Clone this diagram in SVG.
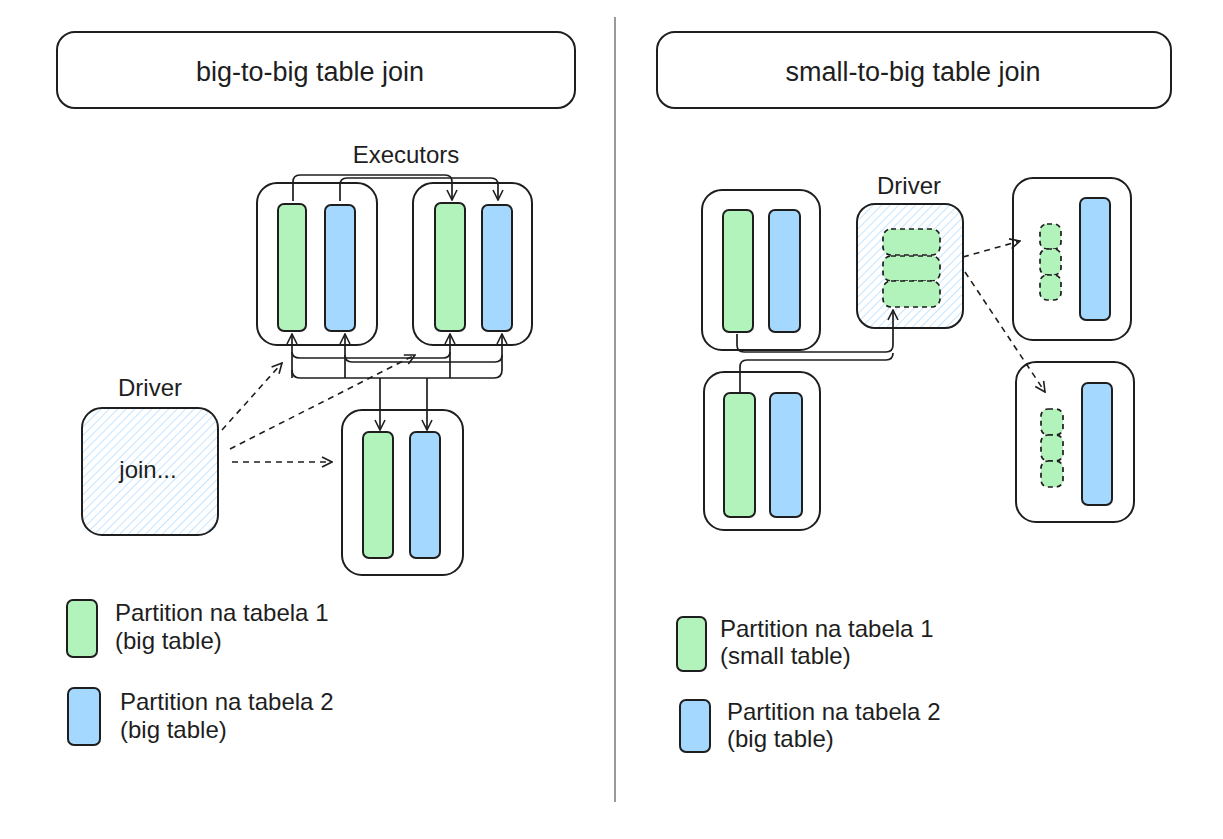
<svg xmlns="http://www.w3.org/2000/svg" width="1223" height="839" viewBox="0 0 1223 839">
<style>
.box{fill:#fff;stroke:#1e1e1e;stroke-width:2}
.g{fill:#b2f2bb;stroke:#1e1e1e;stroke-width:2}
.b{fill:#a5d8ff;stroke:#1e1e1e;stroke-width:2}
.gd{fill:#b2f2bb;stroke:#1e1e1e;stroke-width:1.7;stroke-dasharray:5 4}
.hatch{fill:url(#hatch);stroke:#1e1e1e;stroke-width:2}
.t{font-family:"Liberation Sans",Arial,sans-serif;fill:#1e1e1e}
.c{fill:none;stroke:#1e1e1e;stroke-width:1.7}
.d{fill:none;stroke:#1e1e1e;stroke-width:1.6;stroke-dasharray:6 5}
</style>
<defs>
<pattern id="hatch" patternUnits="userSpaceOnUse" width="6" height="6" patternTransform="rotate(45)">
<rect width="6" height="6" fill="#fff"/>
<line x1="0" y1="0" x2="0" y2="6" stroke="#a5d8ff" stroke-width="1.3"/>
</pattern>
<marker id="ah" viewBox="0 0 12 12" refX="11" refY="6" markerWidth="12" markerHeight="12" markerUnits="userSpaceOnUse" orient="auto">
<path d="M1,1 L11,6 L1,11" fill="none" stroke="#1e1e1e" stroke-width="1.6"/>
</marker>
</defs>
<rect width="1223" height="839" fill="#fff"/>
<line x1="615" y1="17" x2="615" y2="802" stroke="#777" stroke-width="1.5"/>

<g id="title-left"><rect class="box" x="57" y="32" width="518" height="76" rx="18"/><text class="t" x="310" y="81" font-size="27" text-anchor="middle">big-to-big table join</text></g>
<g id="title-right"><rect class="box" x="657" y="32" width="514" height="76" rx="18"/><text class="t" x="913" y="81" font-size="27" text-anchor="middle">small-to-big table join</text></g>

<g id="executors-label"><text class="t" x="406" y="163" font-size="24" text-anchor="middle">Executors</text></g>

<g id="exec1"><rect class="box" x="257" y="183" width="120" height="162" rx="20"/><rect class="g" x="278" y="204" width="28" height="127" rx="6"/><rect class="b" x="325" y="205" width="30" height="126" rx="6"/></g>
<g id="exec2"><rect class="box" x="413" y="183" width="119" height="162" rx="20"/><rect class="g" x="435" y="203" width="30" height="128" rx="6"/><rect class="b" x="482" y="205" width="30" height="126" rx="6"/></g>
<g id="exec3"><rect class="box" x="342" y="410" width="121" height="165" rx="20"/><rect class="g" x="363" y="432" width="30" height="126" rx="6"/><rect class="b" x="410" y="432" width="30" height="126" rx="6"/></g>

<g id="driver-left"><text class="t" x="150" y="396" font-size="24" text-anchor="middle">Driver</text><rect class="hatch" x="82" y="408" width="136" height="127" rx="20"/><text class="t" x="148" y="478" font-size="24" text-anchor="middle">join...</text></g>

<g id="legend-left">
<rect class="g" x="67" y="600" width="30" height="57" rx="6"/><text class="t" x="115" y="621" font-size="24">Partition na tabela 1</text><text class="t" x="115" y="649" font-size="24">(big table)</text>
<rect class="b" x="68" y="688" width="32" height="57" rx="6"/><text class="t" x="120" y="710" font-size="24">Partition na tabela 2</text><text class="t" x="120" y="738" font-size="24">(big table)</text>
</g>

<g id="execA"><rect class="box" x="702" y="190" width="118" height="160" rx="20"/><rect class="g" x="723" y="210" width="30" height="122" rx="6"/><rect class="b" x="769" y="210" width="31" height="122" rx="6"/></g>
<g id="execB"><rect class="box" x="704" y="372" width="116" height="158" rx="20"/><rect class="g" x="724" y="393" width="31" height="124" rx="6"/><rect class="b" x="770" y="393" width="32" height="124" rx="6"/></g>
<g id="driver-right"><text class="t" x="909" y="194" font-size="24" text-anchor="middle">Driver</text><rect class="hatch" x="857" y="204" width="106" height="124" rx="18"/>
<rect class="gd" x="883" y="229" width="57" height="26" rx="8"/><rect class="gd" x="883" y="256" width="57" height="25" rx="8"/><rect class="gd" x="883" y="281" width="57" height="26" rx="8"/></g>
<g id="execC"><rect class="box" x="1013" y="178" width="118" height="162" rx="20"/>
<rect class="gd" x="1040" y="224" width="21" height="25" rx="7"/><rect class="gd" x="1040" y="249" width="21" height="26" rx="7"/><rect class="gd" x="1040" y="275" width="21" height="25" rx="7"/>
<rect class="b" x="1080" y="198" width="30" height="122" rx="6"/></g>
<g id="execD"><rect class="box" x="1016" y="362" width="118" height="160" rx="20"/>
<rect class="gd" x="1041" y="409" width="22" height="26" rx="7"/><rect class="gd" x="1041" y="435" width="22" height="26" rx="7"/><rect class="gd" x="1041" y="461" width="22" height="26" rx="7"/>
<rect class="b" x="1082" y="383" width="30" height="122" rx="6"/></g>

<g id="legend-right">
<rect class="g" x="677" y="617" width="29" height="54" rx="6"/><text class="t" x="720" y="637" font-size="24">Partition na tabela 1</text><text class="t" x="720" y="664" font-size="24">(small table)</text>
<rect class="b" x="680" y="700" width="30" height="52" rx="6"/><text class="t" x="727" y="720" font-size="24">Partition na tabela 2</text><text class="t" x="727" y="747" font-size="24">(big table)</text>
</g>

<g id="connectors">
<path class="c" d="M293,201 V182 Q293,175 300,175 H445 Q452,175 452,182 V200" marker-end="url(#ah)"/>
<path class="c" d="M340,201 V185 Q340,178 347,178 H491 Q498,178 498,185 V200" marker-end="url(#ah)"/>
<path class="c" d="M292,370 Q292,378 300,378 H494 Q502,378 502,370 V334" marker-end="url(#ah)"/>
<path class="c" d="M292,378 V334" marker-end="url(#ah)"/>
<path class="c" d="M345,378 V334" marker-end="url(#ah)"/>
<path class="c" d="M450,378 V334" marker-end="url(#ah)"/>
<path class="c" d="M292,352 Q292,358 300,358 H443 Q450,358 450,352"/>
<path class="c" d="M345,355 Q345,362 352,362 H495 Q502,362 502,355"/>
<path class="c" d="M380,378 V430" marker-end="url(#ah)"/>
<path class="c" d="M427,378 V430" marker-end="url(#ah)"/>
<path class="d" d="M222,430 L282,363" marker-end="url(#ah)"/>
<path class="d" d="M230,449 L415,355" marker-end="url(#ah)"/>
<path class="d" d="M232,462 L332,462" marker-end="url(#ah)"/>
<path class="c" d="M737,334 V345 Q737,352 744,352 H886 Q893,352 893,345 V310" marker-end="url(#ah)"/>
<path class="c" d="M740,392 V367 Q740,360 747,360 H886 Q893,360 893,353"/>
<path class="d" d="M963,257 L1020,241" marker-end="url(#ah)"/>
<path class="d" d="M965,272 L1045,392" marker-end="url(#ah)"/>
</g>
</svg>
